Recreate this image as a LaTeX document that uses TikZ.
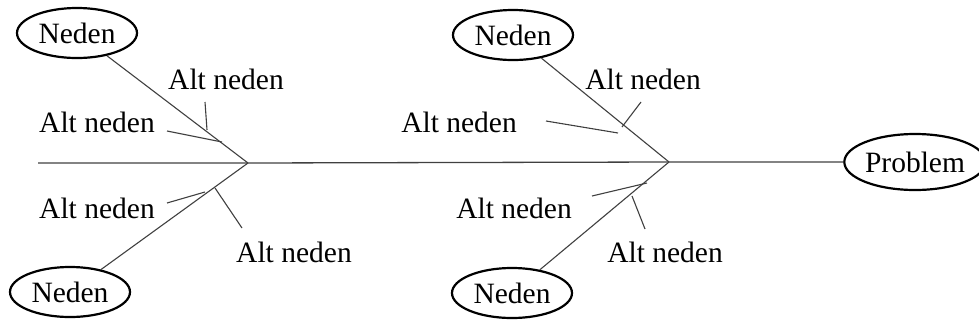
\documentclass[tikz,border=0pt]{standalone}
\usepackage{fontspec}
\setmainfont{Liberation Serif}
\usetikzlibrary{shapes.geometric}
\tikzset{
  cause/.style={ellipse, draw=black, line width=2.2pt, inner sep=0pt, minimum width=120pt, minimum height=50pt, font=\fontsize{29.5}{34}\selectfont},
  prob/.style={ellipse, draw=black, line width=2.2pt, inner sep=0pt, minimum width=126pt, minimum height=56pt, font=\fontsize{29.5}{34}\selectfont},
  sublabel/.style={inner sep=0pt, font=\fontsize{29.5}{34}\selectfont},
  bone/.style={draw=black!75, line width=1.1pt},
  spine/.style={draw=black!75, line width=1.3pt}
}
\begin{document}
\begin{tikzpicture}[x=1pt,y=-1pt]
\useasboundingbox (0,0) rectangle (979,327);
% cause ellipses
\node[cause] (n1) at (77,33) {Neden};
\node[cause] (n2) at (70,292) {Neden};
\node[cause] (n3) at (513,35) {Neden};
\node[cause] (n4) at (512,293) {Neden};
\node[prob] (p) at (915,162) {Problem};
% junctions
\coordinate (j1) at (248,163);
\coordinate (j2) at (669,162);
\coordinate (s0) at (38,163);
% spine
\draw[spine] (s0) -- (j1) -- (j2) -- (p);
% bones
\draw[bone] (n1) -- (j1);
\draw[bone] (n2) -- (j1);
\draw[bone] (n3) -- (j2);
\draw[bone] (n4) -- (j2);
% labels
\node[sublabel] (a1) at (226,79) {Alt neden};
\node[sublabel] (a2) at (97,122) {Alt neden};
\node[sublabel] (a3) at (97,208) {Alt neden};
\node[sublabel] (a4) at (294,252) {Alt neden};
\node[sublabel] (b1) at (643,79) {Alt neden};
\node[sublabel] (b2) at (459,122) {Alt neden};
\node[sublabel] (b3) at (514,208) {Alt neden};
\node[sublabel] (b4) at (665,252) {Alt neden};
% sub-cause lines
\coordinate (a1s) at (205,102); \coordinate (a1e) at (207,130);
\coordinate (a2s) at (167,131); \coordinate (a2e) at (222,142);
\coordinate (a3s) at (167,203); \coordinate (a3e) at (205,192);
\coordinate (a4s) at (242,228); \coordinate (a4e) at (215,188);
\coordinate (b1s) at (641,102); \coordinate (b1e) at (622,127);
\coordinate (b2s) at (546,121); \coordinate (b2e) at (618,133);
\coordinate (b3s) at (592,196); \coordinate (b3e) at (647,183);
\coordinate (b4s) at (645,229); \coordinate (b4e) at (632,196);
\draw[bone] (a1s) -- (a1e);
\draw[bone] (a2s) -- (a2e);
\draw[bone] (a3s) -- (a3e);
\draw[bone] (a4s) -- (a4e);
\draw[bone] (b1s) -- (b1e);
\draw[bone] (b2s) -- (b2e);
\draw[bone] (b3s) -- (b3e);
\draw[bone] (b4s) -- (b4e);
\end{tikzpicture}
\end{document}
